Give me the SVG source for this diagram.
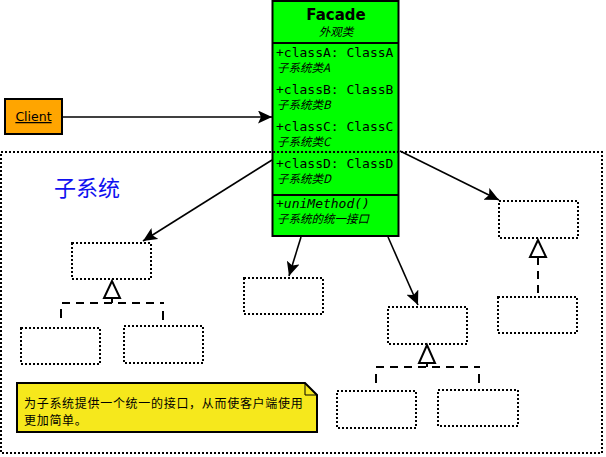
<svg xmlns="http://www.w3.org/2000/svg" width="606" height="457" viewBox="0 0 606 457">
<style>
.box{fill:none;stroke:#000;stroke-width:2;stroke-dasharray:2,2}
.frame{fill:none;stroke:#000;stroke-width:2;stroke-dasharray:2,2}
.mono{font-family:"DejaVu Sans Mono",monospace;font-size:13px;fill:#000}
.cn{font-family:"Noto Sans CJK SC",sans-serif;font-size:11.5px;font-style:italic;fill:#000}
.line{stroke:#000;stroke-width:1.6;fill:none}
.dash{stroke:#000;stroke-width:2;fill:none;stroke-dasharray:8,6}
.stub{stroke:#000;stroke-width:2;fill:none}
.tri{fill:#fff;stroke:#000;stroke-width:2}
</style>
<defs>
<marker id="arr" markerWidth="15" markerHeight="13" refX="14" refY="6.5" orient="auto" markerUnits="userSpaceOnUse">
<path d="M0,0 L14,6.5 L0,13 L3,6.5 Z" fill="#000"/>
</marker>
</defs>
<g id="facade">
<rect x="272.5" y="1" width="126" height="235" fill="#00FF00" stroke="#000" stroke-width="2"/>
<line x1="272" y1="43" x2="399" y2="43" stroke="#000" stroke-width="2"/>
<line x1="272" y1="195" x2="399" y2="195" stroke="#000" stroke-width="2"/>
<text text-anchor="middle"><tspan x="336" y="20" font-family="DejaVu Sans,sans-serif" font-weight="bold" font-size="15">Facade</tspan><tspan x="336" y="36" class="cn">外观类</tspan></text>
<text><tspan x="276" y="57" class="mono">+classA: ClassA</tspan><tspan x="277" y="72" class="cn">子系统类A</tspan></text>
<text><tspan x="276" y="94" class="mono">+classB: ClassB</tspan><tspan x="277" y="109" class="cn">子系统类B</tspan></text>
<text><tspan x="276" y="131" class="mono">+classC: ClassC</tspan><tspan x="277" y="146" class="cn">子系统类C</tspan></text>
<text><tspan x="276" y="168" class="mono">+classD: ClassD</tspan><tspan x="277" y="183" class="cn">子系统类D</tspan></text>
<text><tspan x="276" y="208" class="mono" font-style="italic">+uniMethod()</tspan><tspan x="277" y="223" class="cn">子系统的统一接口</tspan></text>
</g>
<g id="subsystem">
<rect class="frame" x="1" y="152" width="601" height="301"/>
<text x="54" y="196" font-family="Noto Sans CJK SC,sans-serif" font-size="22" fill="#1010F0">子系统</text>
</g>
<g id="client">
<rect x="5" y="99" width="57" height="35" fill="#FFA500" stroke="#000" stroke-width="2"/>
<text x="33.5" y="121" text-anchor="middle" font-family="DejaVu Sans,sans-serif" font-size="12.5" text-decoration="underline">Client</text>
</g>
<g id="box1"><rect class="box" x="72" y="243" width="79" height="36"/></g>
<g id="box2"><rect class="box" x="21" y="328" width="79" height="36"/></g>
<g id="box3"><rect class="box" x="124" y="326" width="79" height="37"/></g>
<g id="box4"><rect class="box" x="244" y="278" width="79" height="36"/></g>
<g id="box5"><rect class="box" x="388" y="307" width="79" height="37"/></g>
<g id="box6"><rect class="box" x="337" y="391" width="79" height="37"/></g>
<g id="box7"><rect class="box" x="438" y="390" width="80" height="36"/></g>
<g id="box8"><rect class="box" x="499" y="201" width="79" height="37"/></g>
<g id="box9"><rect class="box" x="498" y="297" width="79" height="36"/></g>
<g id="note">
<path d="M17,383 L305,383 L317,395 L317,432 L17,432 Z" fill="#F6E81C" stroke="#000" stroke-width="2"/>
<path d="M305,383 L305,395 L317,395" fill="none" stroke="#000" stroke-width="1"/>
<text font-family="Noto Sans CJK SC,sans-serif" font-size="12" letter-spacing="0.7" fill="#000"><tspan x="24" y="407.5">为子系统提供一个统一的接口，从而使客户端使用</tspan><tspan x="24" y="424.5">更加简单。</tspan></text>
</g>
<g id="connectors">
<line class="line" x1="62" y1="117" x2="272" y2="117" marker-end="url(#arr)"/>
<line class="line" x1="272" y1="160" x2="143" y2="241" marker-end="url(#arr)"/>
<line class="line" x1="301" y1="237" x2="289" y2="276" marker-end="url(#arr)"/>
<line class="line" x1="388" y1="237" x2="418" y2="305" marker-end="url(#arr)"/>
<line class="line" x1="400" y1="151" x2="499" y2="200" marker-end="url(#arr)"/>
<path class="dash" d="M62,303 L164,303"/>
<path class="stub" d="M61,309 L61,318 M163,311 L163,320"/>
<line class="stub" x1="112" y1="298" x2="112" y2="303"/>
<polygon class="tri" points="112,281 104,298 120,298"/>
<path class="dash" d="M376,367 L480,367"/>
<path class="stub" d="M376,374 L376,383 M479,374 L479,383"/>
<line class="stub" x1="427" y1="363" x2="427" y2="367"/>
<polygon class="tri" points="427,345 419,363 435,363"/>
<path class="dash" d="M538,257 L538,297"/>
<polygon class="tri" points="538,240 530,257 546,257"/>
</g>
</svg>
